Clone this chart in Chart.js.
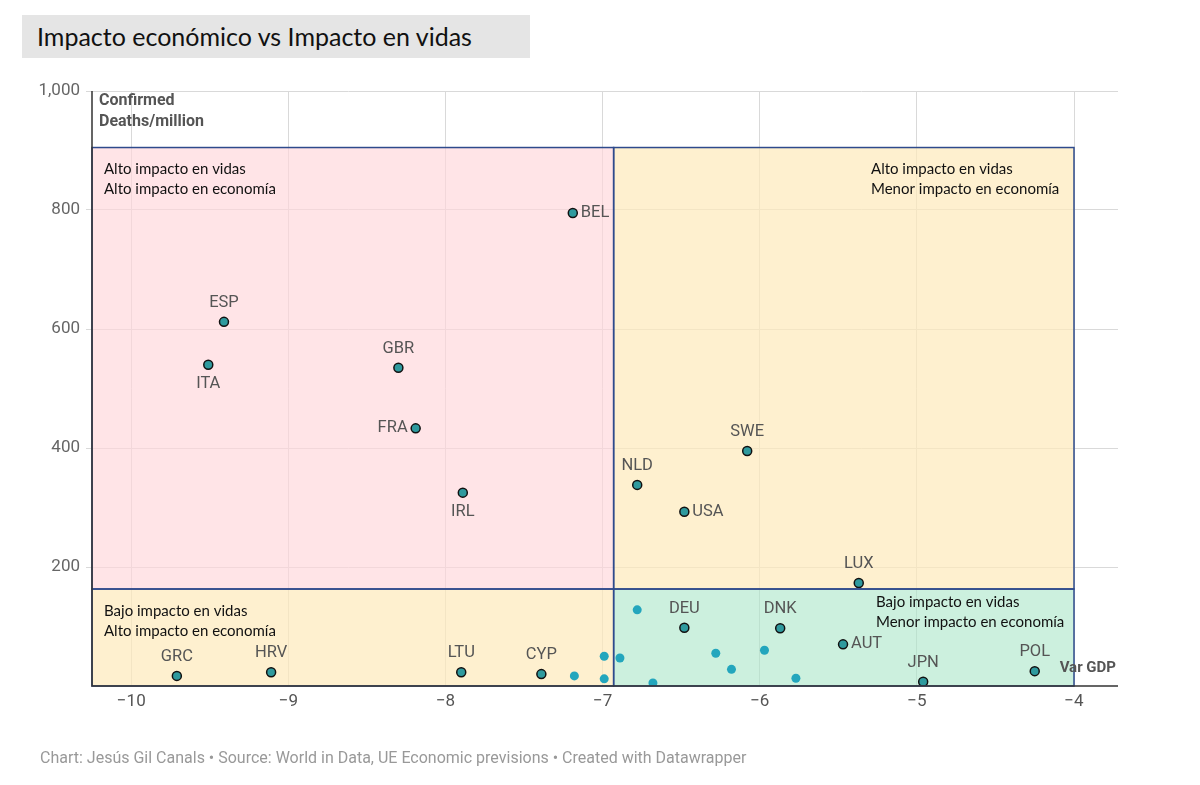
<!DOCTYPE html>
<html><head><meta charset="utf-8">
<script src="https://cdn.jsdelivr.net/npm/chart.js@4"></script>
<style>body{margin:0;background:#fff}#w{position:relative;width:1200px;height:785px}
#t{position:absolute;left:22px;top:15px;width:508px;height:43px;background:#e5e5e5;font:25px Lato,'Open Sans',sans-serif;color:#111;line-height:43px;padding-left:15px;box-sizing:border-box}
#f{position:absolute;left:40px;top:748px;font:16px Roboto,sans-serif;color:#999}</style></head>
<body><div id="w"><canvas id="c" width="1200" height="785"></canvas>
<div id="t">Impacto económico vs Impacto en vidas</div>
<div id="f">Chart: Jesús Gil Canals • Source: World in Data, UE Economic previsions • Created with Datawrapper</div></div>
<script>
const labels=["BEL","ESP","ITA","GBR","FRA","IRL","NLD","USA","SWE","LUX","DEU","DNK","AUT","JPN","POL","GRC","HRV","LTU","CYP"];
const gdp=[-7.19,-9.41,-9.51,-8.30,-8.19,-7.89,-6.78,-6.48,-6.08,-5.37,-6.48,-5.87,-5.47,-4.96,-4.25,-9.71,-9.11,-7.90,-7.39];
const deaths=[795,612,540,535,433,325,338,293,395,173,98,97,70,7,25,17,23,23,20];
const labelPos=["right","above","below","above","left","below","above","right","above","above","above","above","right","above","above","above","above","above","above"];
const otherGdp=[-6.78,-6.99,-6.89,-7.18,-6.99,-6.68,-6.28,-6.18,-5.97,-5.77];
const otherDeaths=[128,50,47,17,12,5,55,28,60,13];
const quadrants=[
 {x0:-10.25,x1:-6.93,y0:163,y1:905,fill:"rgba(255,214,218,0.65)",text:["Alto impacto en vidas","Alto impacto en economía"],align:"left"},
 {x0:-6.93,x1:-4.0,y0:163,y1:905,fill:"rgba(253,234,186,0.7)",text:["Alto impacto en vidas","Menor impacto en economía"],align:"right"},
 {x0:-10.25,x1:-6.93,y0:0,y1:163,fill:"rgba(253,234,186,0.7)",text:["Bajo impacto en vidas","Alto impacto en economía"],align:"left"},
 {x0:-6.93,x1:-4.0,y0:0,y1:163,fill:"rgba(170,230,200,0.6)",text:["Bajo impacto en vidas","Menor impacto en economía"],align:"right"}];
const quadPlugin={id:"q",
 beforeDatasetsDraw(ch){const {ctx,scales:{x,y}}=ch;ctx.save();
  quadrants.forEach(q=>{const l=x.getPixelForValue(q.x0),r=x.getPixelForValue(q.x1),t=y.getPixelForValue(q.y1),b=y.getPixelForValue(q.y0);
   ctx.fillStyle=q.fill;ctx.fillRect(l,t,r-l,b-t);});
  ctx.restore();},
 afterDatasetsDraw(ch){const {ctx,scales:{x,y}}=ch;ctx.save();
  quadrants.forEach(q=>{const l=x.getPixelForValue(q.x0),r=x.getPixelForValue(q.x1),t=y.getPixelForValue(q.y1),b=y.getPixelForValue(q.y0);
   ctx.strokeStyle="#2e4a8c";ctx.lineWidth=1.5;ctx.strokeRect(l,t,r-l,b-t);
   ctx.fillStyle="#111";ctx.font="15px Lato,'Open Sans',sans-serif";ctx.textBaseline="middle";
   if(q.align==="left"){ctx.textAlign="left";q.text.forEach((s,i)=>ctx.fillText(s,l+12,t+22+i*20));}
   else{ctx.textAlign="left";const tx=q.y0>0?r-203:r-198;q.text.forEach((s,i)=>ctx.fillText(s,tx,q.y0>0?t+22+i*20:t+13+i*20));}
  });
  const m=ch.getDatasetMeta(1);ctx.font="16.5px Roboto,sans-serif";ctx.fillStyle="#555";
  m.data.forEach((p,i)=>{const pos=labelPos[i];ctx.textBaseline="middle";
   if(pos==="right"){ctx.textAlign="left";ctx.fillText(labels[i],p.x+8,p.y);}
   else if(pos==="left"){ctx.textAlign="right";ctx.fillText(labels[i],p.x-8,p.y);}
   else if(pos==="above"){ctx.textAlign="center";ctx.fillText(labels[i],p.x,p.y-19);}
   else{ctx.textAlign="center";ctx.fillText(labels[i],p.x,p.y+19);}});
  ctx.font="bold 16px Roboto,sans-serif";ctx.fillStyle="#555";ctx.textAlign="left";ctx.textBaseline="top";
  ctx.fillText("Confirmed",x.left+7,y.top+2);ctx.fillText("Deaths/million",x.left+7,y.top+23);
  ctx.textAlign="right";ctx.textBaseline="middle";ctx.font="bold 15px Roboto,sans-serif";ctx.fillText("Var GDP",x.right-2,y.bottom-18);
  ctx.strokeStyle="#333";ctx.lineWidth=1.5;ctx.beginPath();ctx.moveTo(x.left,y.top);ctx.lineTo(x.left,y.bottom);ctx.lineTo(x.right,y.bottom);ctx.stroke();
  ctx.restore();}};
new Chart(document.getElementById("c"),{type:"scatter",
 data:{datasets:[
  {data:otherGdp.map((v,i)=>({x:v,y:otherDeaths[i]})),backgroundColor:"#23a6bd",borderWidth:0,pointRadius:4.5},
  {data:gdp.map((v,i)=>({x:v,y:deaths[i]})),backgroundColor:"#2f9a9e",borderColor:"#111",borderWidth:1.5,pointRadius:4.5}]},
 options:{responsive:false,animation:false,layout:{padding:{top:91,right:82,left:0,bottom:0}},
  plugins:{legend:{display:false},tooltip:{enabled:false}},
  scales:{
   x:{min:-10.25,max:-3.72,afterFit(s){s.height=99;},
    afterBuildTicks(s){s.ticks=[-10,-9,-8,-7,-6,-5,-4].map(v=>({value:v}));},
    ticks:{callback:v=>"\u2212"+Math.abs(v),color:"#555",font:{size:17,family:"Roboto"},padding:6},
    grid:{color:"#d9d9d9",drawTicks:false},border:{display:false}},
   y:{min:0,max:1000,afterFit(s){s.width=92;},
    afterBuildTicks(s){s.ticks=[200,400,600,800,1000].map(v=>({value:v}));},
    ticks:{callback:v=>v.toLocaleString("en-US"),color:"#666",font:{size:17,family:"Roboto"},padding:6},
    grid:{color:"#d9d9d9",tickLength:6},border:{display:false}}}},
 plugins:[quadPlugin]});
</script></body></html>
